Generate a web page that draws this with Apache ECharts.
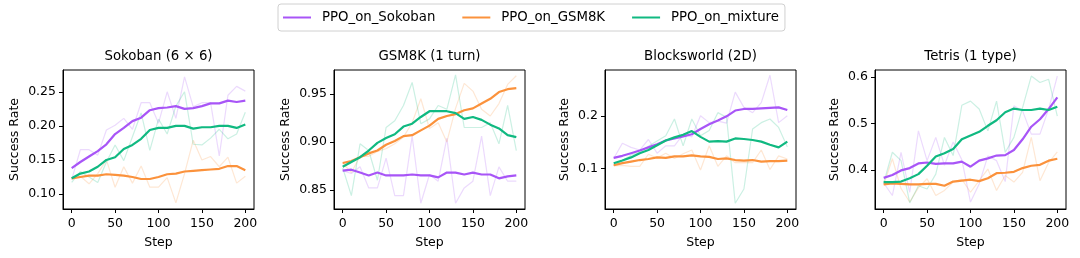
<!DOCTYPE html>
<html>
<head>
<meta charset="utf-8">
<script src="https://cdn.jsdelivr.net/npm/echarts@6/dist/echarts.min.js"></script>
<style>
html,body{margin:0;padding:0;background:#fff;}
#chart{width:1080px;height:258px;}
</style>
</head>
<body>
<div id="chart"></div>
<script>
// ---- data ----
const steps = [0,10,20,30,40,50,60,70,80,90,100,110,120,130,140,150,160,170,180,190,200];
const methods = ['PPO_on_Sokoban','PPO_on_GSM8K','PPO_on_mixture'];
const titles = ['Sokoban (6 \u00d7 6)','GSM8K (1 turn)','Blocksworld (2D)','Tetris (1 type)'];
const xTicks = [0,50,100,150,200];
const yTicks1 = [0.10,0.15,0.20,0.25];
const yTicks2 = [0.85,0.90,0.95];
const yTicks3 = [0.1,0.2];
const yTicks4 = [0.4,0.5,0.6];

// Sokoban (6x6)
const sokSokobanSmooth = [0.138,0.147,0.155,0.163,0.173,0.188,0.197,0.207,0.212,0.223,0.226,0.227,0.229,0.225,0.226,0.229,0.233,0.233,0.237,0.235,0.237];
const sokSokobanRaw    = [0.121,0.165,0.165,0.157,0.194,0.201,0.211,0.195,0.234,0.234,0.204,0.250,0.211,0.272,0.228,0.234,0.234,0.156,0.245,0.258,0.251];
const sokGsmSmooth     = [0.123,0.125,0.127,0.127,0.129,0.128,0.127,0.125,0.122,0.122,0.125,0.129,0.130,0.133,0.134,0.135,0.136,0.137,0.141,0.141,0.135];
const sokGsmRaw        = [0.123,0.126,0.115,0.130,0.150,0.110,0.140,0.116,0.141,0.110,0.110,0.124,0.087,0.130,0.179,0.150,0.155,0.140,0.154,0.116,0.126];
const sokMixSmooth     = [0.123,0.130,0.133,0.140,0.150,0.154,0.166,0.172,0.181,0.194,0.197,0.197,0.200,0.200,0.196,0.198,0.198,0.200,0.200,0.197,0.202];
const sokMixRaw        = [0.117,0.133,0.125,0.117,0.147,0.172,0.149,0.184,0.219,0.164,0.210,0.188,0.229,0.250,0.173,0.172,0.182,0.195,0.181,0.188,0.220];

// GSM8K (1 turn)
const gsmSokobanSmooth = [0.870,0.871,0.868,0.865,0.868,0.865,0.865,0.865,0.866,0.865,0.865,0.863,0.868,0.868,0.866,0.868,0.866,0.866,0.862,0.864,0.865];
const gsmSokobanRaw    = [0.870,0.867,0.874,0.852,0.852,0.883,0.844,0.844,0.906,0.836,0.866,0.859,0.904,0.836,0.852,0.859,0.906,0.844,0.874,0.859,0.859];
const gsmGsmSmooth     = [0.878,0.880,0.884,0.888,0.891,0.897,0.901,0.906,0.907,0.912,0.917,0.924,0.927,0.929,0.933,0.935,0.940,0.945,0.952,0.955,0.956];
const gsmGsmRaw        = [0.878,0.868,0.885,0.885,0.890,0.893,0.898,0.905,0.920,0.945,0.914,0.920,0.900,0.935,0.961,0.953,0.934,0.927,0.940,0.960,0.969];
const gsmMixSmooth     = [0.874,0.879,0.884,0.891,0.899,0.904,0.908,0.916,0.919,0.926,0.932,0.932,0.932,0.930,0.924,0.926,0.923,0.918,0.914,0.907,0.905];
const gsmMixRaw        = [0.873,0.844,0.898,0.891,0.860,0.915,0.922,0.938,0.962,0.919,0.924,0.938,0.934,0.970,0.915,0.915,0.915,0.920,0.898,0.938,0.891];

// Blocksworld (2D)
const bwSokobanSmooth  = [0.120,0.124,0.129,0.134,0.140,0.146,0.153,0.157,0.161,0.165,0.175,0.184,0.191,0.199,0.210,0.213,0.213,0.214,0.215,0.216,0.211];
const bwSokobanRaw     = [0.119,0.148,0.140,0.135,0.155,0.129,0.143,0.143,0.165,0.160,0.200,0.187,0.190,0.186,0.245,0.216,0.206,0.225,0.277,0.187,0.200];
const bwGsmSmooth      = [0.106,0.110,0.113,0.116,0.118,0.121,0.120,0.123,0.123,0.125,0.123,0.122,0.118,0.119,0.116,0.115,0.116,0.113,0.114,0.114,0.115];
const bwGsmRaw         = [0.105,0.106,0.104,0.104,0.127,0.120,0.129,0.119,0.128,0.135,0.097,0.143,0.104,0.124,0.111,0.111,0.111,0.135,0.098,0.124,0.118];
const bwMixSmooth      = [0.110,0.115,0.121,0.129,0.135,0.144,0.153,0.159,0.164,0.171,0.160,0.151,0.152,0.151,0.157,0.156,0.154,0.151,0.145,0.140,0.151];
const bwMixRaw         = [0.105,0.115,0.125,0.131,0.142,0.152,0.162,0.194,0.143,0.194,0.162,0.172,0.206,0.197,0.034,0.061,0.175,0.187,0.194,0.178,0.141];

// Tetris (1 type)
const tetSokobanSmooth = [0.383,0.389,0.399,0.404,0.414,0.416,0.413,0.414,0.414,0.418,0.407,0.420,0.425,0.431,0.432,0.443,0.466,0.493,0.509,0.531,0.556];
const tetSokobanRaw    = [0.372,0.345,0.438,0.352,0.484,0.420,0.470,0.410,0.460,0.422,0.331,0.370,0.430,0.420,0.375,0.538,0.527,0.477,0.477,0.531,0.602];
const tetGsmSmooth     = [0.369,0.371,0.370,0.369,0.369,0.370,0.370,0.366,0.375,0.377,0.379,0.376,0.382,0.393,0.394,0.396,0.404,0.409,0.411,0.420,0.424];
const tetGsmRaw        = [0.368,0.424,0.360,0.331,0.362,0.381,0.345,0.356,0.374,0.380,0.352,0.377,0.402,0.356,0.388,0.374,0.395,0.470,0.377,0.416,0.439];
const tetMixSmooth     = [0.374,0.374,0.375,0.382,0.391,0.409,0.429,0.436,0.445,0.466,0.474,0.482,0.495,0.507,0.524,0.532,0.529,0.529,0.532,0.529,0.536];
const tetMixRaw        = [0.372,0.438,0.420,0.329,0.366,0.359,0.391,0.470,0.431,0.539,0.548,0.531,0.484,0.548,0.438,0.470,0.534,0.602,0.588,0.595,0.516];

// ---- build ----
const FONT = 'DejaVu Sans';
const colors = ['#a855f7','#fb923c','#10b981'];
const panels = [
  {smooth:[sokSokobanSmooth,sokGsmSmooth,sokMixSmooth], raw:[sokSokobanRaw,sokGsmRaw,sokMixRaw], ticks:yTicks1, dec:2, min:0.078, max:0.282, left:63, nameGap:42},
  {smooth:[gsmSokobanSmooth,gsmGsmSmooth,gsmMixSmooth], raw:[gsmSokobanRaw,gsmGsmRaw,gsmMixRaw], ticks:yTicks2, dec:2, min:0.830, max:0.975, left:334, nameGap:42},
  {smooth:[bwSokobanSmooth,bwGsmSmooth,bwMixSmooth], raw:[bwSokobanRaw,bwGsmRaw,bwMixRaw], ticks:yTicks3, dec:1, min:0.023, max:0.287, left:605, nameGap:34},
  {smooth:[tetSokobanSmooth,tetGsmSmooth,tetMixSmooth], raw:[tetSokobanRaw,tetGsmRaw,tetMixRaw], ticks:yTicks4, dec:1, min:0.316, max:0.615, left:875, nameGap:34}
];
const W = 191, TOP = 70, H = 139;
const zip = arr => steps.map((s,i)=>[s,arr[i]]);

const grid=[], xAxis=[], yAxis=[], series=[], title=[];
panels.forEach((p,k)=>{
  grid.push({left:p.left, top:TOP, width:W, height:H, show:true, borderColor:'#000', borderWidth:1, backgroundColor:'transparent'});
  title.push({text:titles[k], left:p.left+W/2, top:50, textAlign:'center', padding:0,
    textStyle:{fontFamily:FONT, fontSize:13.3, fontWeight:'normal', color:'#000'}});
  xAxis.push({type:'value', gridIndex:k, min:-10, max:210, position:'bottom',
    name:'Step', nameLocation:'middle', nameGap:27,
    nameTextStyle:{fontFamily:FONT, fontSize:12.5, color:'#000'},
    axisLine:{show:true, onZero:false, lineStyle:{color:'#000', width:1}}, splitLine:{show:false},
    axisTick:{show:true, inside:false, length:4, lineStyle:{color:'#000', width:1}, customValues:xTicks},
    axisLabel:{fontFamily:FONT, fontSize:12.5, color:'#000', margin:8, customValues:xTicks, formatter:v=>String(v)}});
  yAxis.push({type:'value', gridIndex:k, min:p.min, max:p.max, position:'left',
    name:'Success Rate', nameLocation:'middle', nameGap:p.nameGap, nameRotate:90,
    nameTextStyle:{fontFamily:FONT, fontSize:12.5, color:'#000'},
    axisLine:{show:true, onZero:false, lineStyle:{color:'#000', width:1}}, splitLine:{show:false},
    axisTick:{show:true, inside:false, length:4, lineStyle:{color:'#000', width:1}, customValues:p.ticks},
    axisLabel:{fontFamily:FONT, fontSize:12.5, color:'#000', margin:7, customValues:p.ticks, formatter:v=>v.toFixed(p.dec)}});
  for(let m=0;m<3;m++){
    series.push({name:methods[m]+' (raw)', type:'line', xAxisIndex:k, yAxisIndex:k, data:zip(p.raw[m]),
      symbol:'none', z:1, silent:true,
      lineStyle:{color:colors[m], width:1.2, opacity:0.22}, itemStyle:{color:colors[m]}});
  }
  for(let m=0;m<3;m++){
    series.push({name:methods[m], type:'line', xAxisIndex:k, yAxisIndex:k, data:zip(p.smooth[m]),
      symbol:'none', z:3,
      lineStyle:{color:colors[m], width:2.2}, itemStyle:{color:colors[m]}});
  }
});

const chart = echarts.init(document.getElementById('chart'), null, {renderer:'canvas'});
chart.setOption({
  animation:false,
  backgroundColor:'#fff',
  title,
  legend:{data:methods, left:278, top:4, padding:[7,6,7,5], itemGap:27, itemWidth:28, itemHeight:2,
    icon:'rect',
    borderColor:'#d0d0d0', borderWidth:1, borderRadius:3,
    textStyle:{fontFamily:FONT, fontSize:13.3, color:'#000', padding:[0,0,0,6]}},
  grid, xAxis, yAxis, series
});
</script>
</body>
</html>
